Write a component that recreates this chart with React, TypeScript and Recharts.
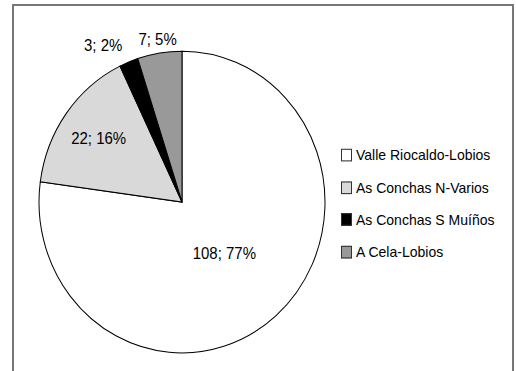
import { PieChart, Pie, Cell, Legend } from 'recharts'

const names = ['Valle Riocaldo-Lobios', 'As Conchas N-Varios', 'As Conchas S Muíños', 'A Cela-Lobios']
const counts = [108, 22, 3, 7]
const colors = ['#ffffff', '#d9d9d9', '#000000', '#999999']

// how far out each label sits, as a share of the radius, and how it is anchored
const labelRadius = [0.45, 0.72, 1.12, 1.09]
const labelAnchor = ['middle', 'middle', 'end', 'middle']

const data = names.map((name, i) => ({ name, value: counts[i] }))

const FONT = '"Liberation Sans", Arial, sans-serif'
const RAD = Math.PI / 180

function renderLabel(props: any) {
  const { cx, cy, midAngle, outerRadius, index, value, percent } = props
  const r = outerRadius * labelRadius[index]
  const x = cx + r * Math.cos(-midAngle * RAD)
  const y = cy + r * Math.sin(-midAngle * RAD)
  return (
    <text
      x={x}
      y={y}
      textAnchor={labelAnchor[index]}
      dominantBaseline="central"
      fill="#000"
      fontSize={15}
      fontFamily={FONT}
    >
      {`${value}; ${Math.round(percent * 100)}%`}
    </text>
  )
}

function LegendContent() {
  return (
    <div style={{ fontFamily: FONT, fontSize: 14, color: '#000' }}>
      {names.map((n, i) => (
        <div key={n} style={{ display: 'flex', alignItems: 'center', height: 30.7 }}>
          <span
            style={{
              width: 11,
              height: 12,
              background: colors[i],
              border: '1px solid #333',
              marginRight: 4,
              boxSizing: 'border-box',
            }}
          />
          <span>{n}</span>
        </div>
      ))}
    </div>
  )
}

export default function App() {
  return (
    <div style={{ position: 'absolute', left: 0, top: 0, width: 516, height: 371, overflow: 'hidden', background: '#fff' }}>
      <div
        style={{
          position: 'absolute',
          left: 12,
          top: 4,
          width: 502,
          height: 400,
          border: '2px solid #777',
          boxSizing: 'border-box',
        }}
      />
      <div style={{ position: 'absolute', left: 0, top: 0, transform: 'scaleY(1.055)', transformOrigin: '0 0' }}>
        <PieChart width={516} height={352} margin={{ top: 0, right: 0, bottom: 0, left: 0 }}>
          <Pie
            data={data}
            dataKey="value"
            nameKey="name"
            cx={182}
            cy={191.5}
            outerRadius={143}
            startAngle={90}
            endAngle={-270}
            stroke="#000"
            strokeWidth={1}
            label={renderLabel}
            labelLine={false}
            isAnimationActive={false}
          >
            {data.map((d, i) => (
              <Cell key={d.name} fill={colors[i]} />
            ))}
          </Pie>
          <Legend
            content={<LegendContent />}
            wrapperStyle={{ left: 341, top: 131.5, width: 170 }}
          />
        </PieChart>
      </div>
    </div>
  )
}
